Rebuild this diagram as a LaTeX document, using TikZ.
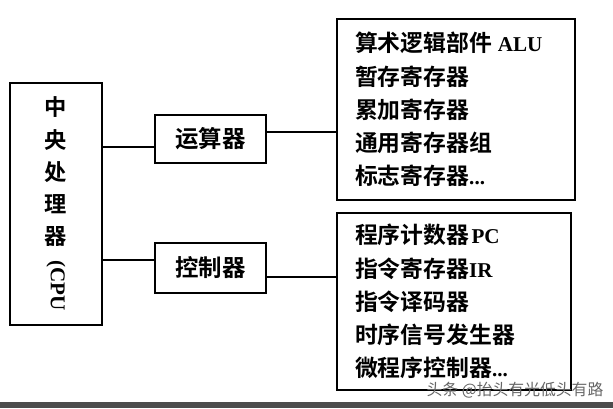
\documentclass[tikz,border=0pt]{standalone}
\usepackage{fontspec}
\setmainfont{Liberation Serif}
\newfontfamily\cjk{Noto Sans CJK SC}[BoldFont={* Bold}]
\newfontfamily\latin{Liberation Serif}
\newfontfamily\wmfont{Noto Sans CJK SC}
\newcommand{\lat}[1]{{\latin\bfseries\fontsize{18}{20}\selectfont #1}}

\begin{document}
\begin{tikzpicture}[
    box/.style={draw, line width=1.2pt, align=center, inner sep=0pt,
                font=\cjk\bfseries\fontsize{20}{27}\selectfont},
    listbox/.style={draw, line width=1.2pt, align=left, inner xsep=0.54cm,
                    font=\cjk\bfseries\fontsize{19.5}{28.3}\selectfont},
    link/.style={line width=1.2pt},
  ]
  \useasboundingbox (0,0) rectangle (18.39,-12.24);
  \node[box, minimum width=2.76cm, minimum height=7.26cm, font=\cjk\bfseries\fontsize{19}{27.5}\selectfont]
    (cpu) at (1.68,-6.12)
    {中\\央\\处\\理\\器\\[-14pt]\rotatebox{-90}{\lat{(CPU}}};
  \node[box, minimum width=3.33cm, minimum height=1.44cm] (alu)  at (6.315,-4.17) {运算器};
  \node[box, minimum width=3.33cm, minimum height=1.5cm]  (ctrl) at (6.315,-8.04) {控制器};
  \node[listbox, text width=6.06cm, minimum height=5.43cm] (alulist) at (13.68,-3.285)
    {算术逻辑部件\hspace{5pt}\lat{ALU}\\暂存寄存器\\累加寄存器\\通用寄存器组\\标志寄存器\lat{...}};
  \node[listbox, text width=5.94cm, minimum height=5.31cm] (ctrllist) at (13.62,-9.045)
    {程序计数器\hspace{2pt}\lat{PC}\\指令寄存器\lat{IR}\\指令译码器\\时序信号发生器\\微程序控制器\lat{...}};
  \draw[link] (cpu.east |- alu.188) -- (alu.188);
  \draw[link] (alu.7) -- (alu.7 -| alulist.west);
  \draw[link] (cpu.east |- ctrl.172) -- (ctrl.172);
  \draw[link] (ctrl.-9) -- (ctrl.-9 -| ctrllist.west);
  % watermark and scan edge
  \node[text=gray!80!black, font=\wmfont\fontsize{13.5}{15}\selectfont] (mark) at (15.45,-11.7)
    {头条 @抬头有光低头有路};
  \fill[gray!60!black] (0,-12.06) rectangle (18.39,-12.24);
\end{tikzpicture}
\end{document}
